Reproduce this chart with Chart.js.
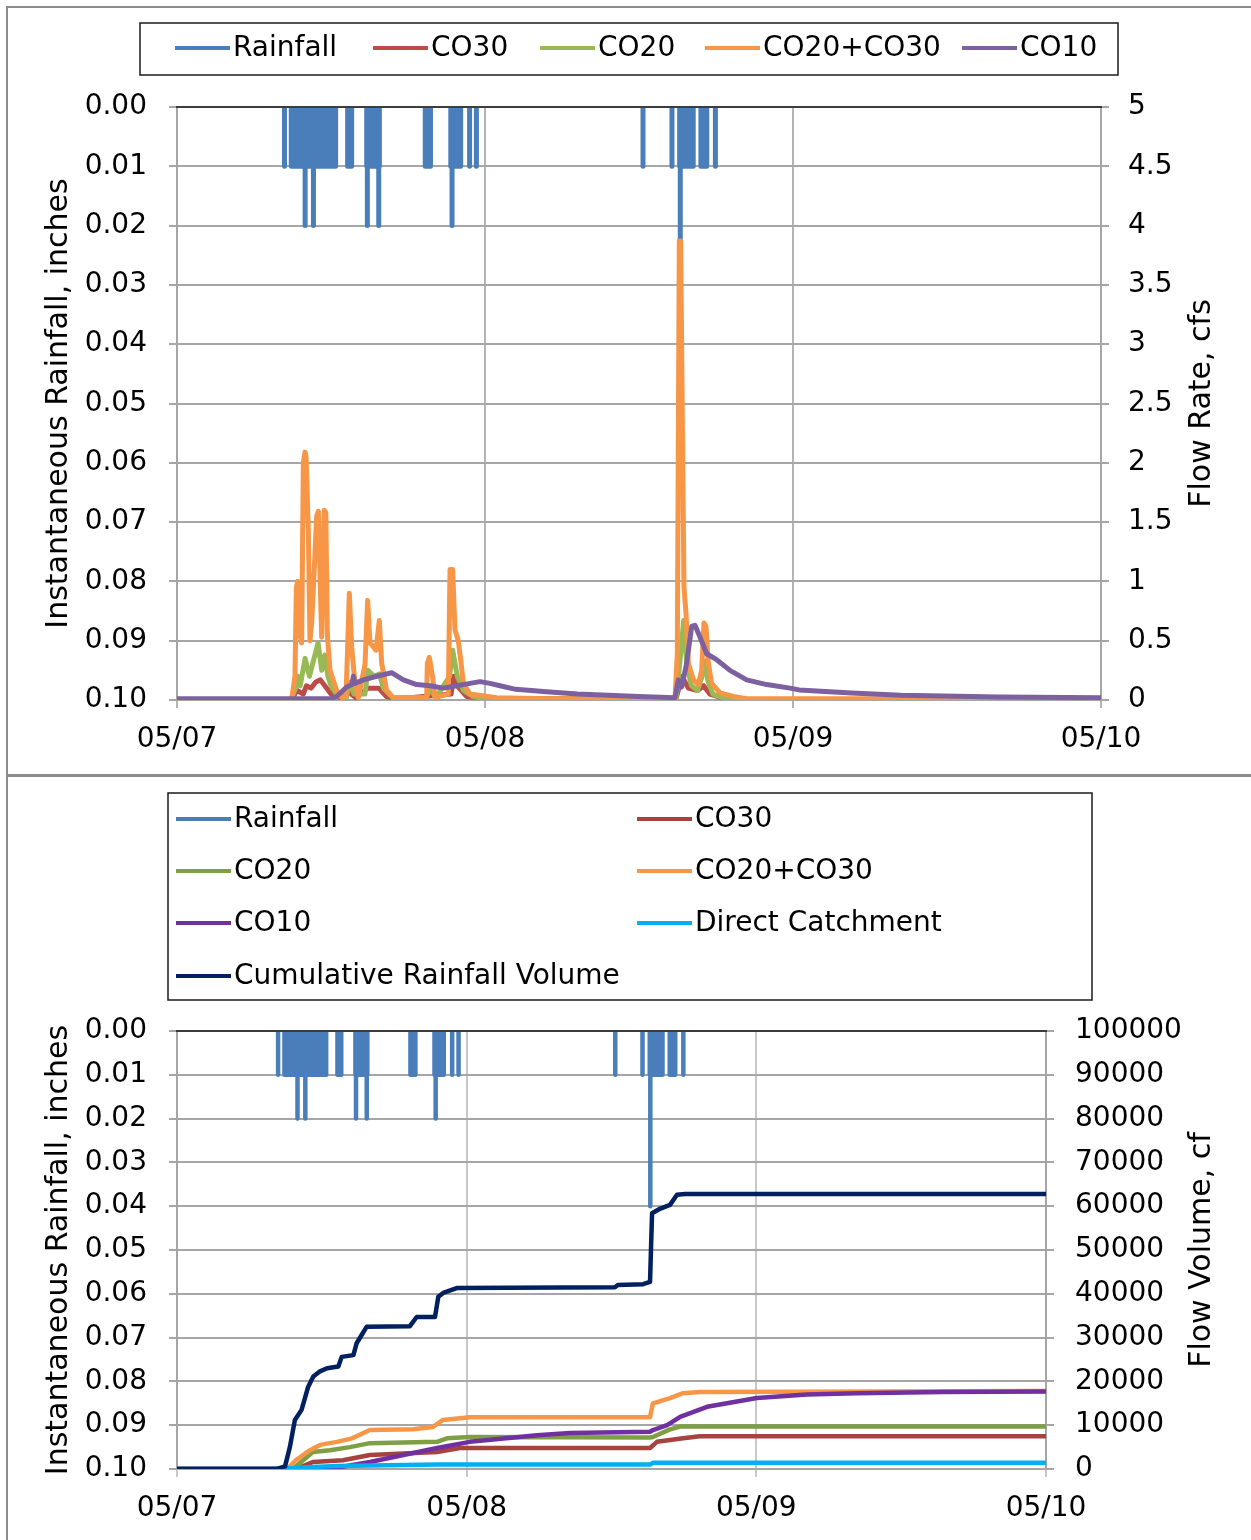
<!DOCTYPE html>
<html><head><meta charset="utf-8">
<script src="https://cdn.jsdelivr.net/npm/chart.js@4.4.1/dist/chart.umd.min.js"></script>
<style>
html,body{margin:0;padding:0;background:#fff;}
#wrap{position:relative;width:1251px;height:1540px;overflow:hidden;background:#fff;}
.frame{position:absolute;left:6px;top:6px;width:1300px;height:1600px;border-left:2px solid #8c8c8c;border-top:2px solid #8c8c8c;}
.sep{position:absolute;left:6px;top:774px;width:1260px;height:3px;background:#8c8c8c;}
canvas{position:absolute;}
#c1{left:8px;top:9px;width:1242px;height:764px;}
#c2{left:8px;top:778px;width:1242px;height:759px;}
</style></head><body>
<div id="wrap"><div class="frame"></div><div class="sep"></div>
<canvas id="c1" width="1242" height="764"></canvas>
<canvas id="c2" width="1242" height="759"></canvas></div>
<script>
// ---------- tick labels ----------
const dateTicks = [0, 1, 2, 3];
const dateLabels = ['05/07', '05/08', '05/09', '05/10'];
const rainTicks = [0, 0.01, 0.02, 0.03, 0.04, 0.05, 0.06, 0.07, 0.08, 0.09, 0.10];
const rainTickLabels = ['0.00','0.01','0.02','0.03','0.04','0.05','0.06','0.07','0.08','0.09','0.10'];
const flowTicks = [0, 0.5, 1, 1.5, 2, 2.5, 3, 3.5, 4, 4.5, 5];
const flowTickLabels = ['0','0.5','1','1.5','2','2.5','3','3.5','4','4.5','5'];
const volTicks = [0,10000,20000,30000,40000,50000,60000,70000,80000,90000,100000];
const volTickLabels = ['0','10000','20000','30000','40000','50000','60000','70000','80000','90000','100000'];

// ---------- series names ----------
const names1 = ['Rainfall', 'CO30', 'CO20', 'CO20+CO30', 'CO10'];
const names2 = ['Rainfall', 'CO30', 'CO20', 'CO20+CO30', 'CO10', 'Direct Catchment', 'Cumulative Rainfall Volume'];

// ---------- rainfall (inches), time in days after 05/07 00:00 ----------
const rainDay = [0.349,0.349,0.349, 0.371,0.371,0.416,0.416,0.416,0.443,0.443,0.443,0.515,0.515,
  0.554,0.554,0.567,0.567, 0.616,0.616,0.618,0.618,0.618,0.655,0.655,0.655,0.657,0.657,
  0.806,0.806,0.823,0.823, 0.889,0.889,0.893,0.893,0.893,0.921,0.921,
  0.950,0.950,0.950, 0.972,0.972,0.972, 1.513,1.513,1.513, 1.607,1.607,1.607,
  1.632,1.632,1.634,1.634,1.634,1.676,1.676, 1.701,1.701,1.720,1.720, 1.748,1.748,1.748];
const rainInch = [0,0.01,0, 0,0.01,0.01,0.02,0.01,0.01,0.02,0.01,0.01,0,
  0,0.01,0.01,0, 0,0.01,0.01,0.02,0.01,0.01,0.02,0.01,0.01,0,
  0,0.01,0.01,0, 0,0.01,0.01,0.02,0.01,0.01,0,
  0,0.01,0, 0,0.01,0, 0,0.01,0, 0,0.01,0,
  0,0.01,0.01,0.04,0.01,0.01,0, 0,0.01,0.01,0, 0,0.01,0];

// ---------- chart 1: flow rate (cfs) ----------
const co30Day1 = [0,0.37,0.39,0.41,0.42,0.435,0.45,0.465,0.48,0.5,0.53,0.56,0.58,0.62,0.655,0.68,0.72,0.89,0.898,0.91,0.94,1.0,1.62,1.64,1.66,1.69,1.71,1.73,1.78,1.85,3.0];
const co30Cfs1 = [0,0,0.08,0.05,0.12,0.1,0.15,0.17,0.12,0.05,0.02,0.06,0.02,0.1,0.1,0.03,0.01,0.05,0.2,0.12,0.03,0.01,0.01,0.2,0.1,0.08,0.12,0.05,0.01,0,0];
const co20Day1 = [0,0.37,0.385,0.392,0.40,0.416,0.43,0.445,0.458,0.47,0.48,0.49,0.50,0.52,0.55,0.56,0.575,0.61,0.62,0.64,0.657,0.67,0.70,0.81,0.82,0.84,0.885,0.895,0.91,0.93,0.96,1.0,1.62,1.632,1.645,1.655,1.67,1.69,1.705,1.713,1.725,1.74,1.77,1.8,3.0];
const co20Cfs1 = [0,0,0.1,0.2,0.12,0.35,0.2,0.35,0.48,0.25,0.38,0.2,0.12,0.04,0.02,0.15,0.05,0.05,0.25,0.2,0.22,0.1,0.02,0.02,0.1,0.02,0.2,0.42,0.2,0.08,0.03,0.01,0.01,0.3,0.67,0.3,0.12,0.08,0.2,0.33,0.15,0.05,0.02,0,0];
const comboDay1 = [0,0.372,0.383,0.3875,0.392,0.3994,0.4048,0.4102,0.4156,0.419,0.4264,0.4318,0.4372,0.4426,0.4535,0.4589,0.4697,0.4778,0.4832,0.4881,0.4968,0.5184,0.5346,0.5487,0.5541,0.5595,0.5671,0.5779,0.5887,0.6104,0.619,0.6266,0.6374,0.6461,0.6569,0.6645,0.6807,0.7024,0.8106,0.8128,0.8193,0.8301,0.8377,0.881,0.8864,0.895,0.9026,0.9134,0.921,0.9297,0.9513,1.0379,1.2,1.6169,1.6244,1.6309,1.6353,1.6407,1.6461,1.6526,1.6602,1.6764,1.6926,1.7035,1.711,1.7175,1.7251,1.7359,1.763,1.8063,1.8496,2.28,2.3,3.0];
const comboCfs1 = [0,0,0.2,0.95,1.0,0.55,0.48,2.0,2.09,2.05,1.43,0.5,0.65,0.93,1.55,1.59,0.53,1.6,1.58,0.55,0.25,0.08,0.02,0.03,0.45,0.9,0.45,0.14,0.02,0.3,0.84,0.48,0.45,0.42,0.67,0.31,0.08,0.02,0.02,0.31,0.36,0.19,0.02,0.05,1.1,1.1,0.59,0.5,0.34,0.14,0.05,0.02,0.01,0.01,0.39,3.87,3.87,2.36,0.95,0.73,0.31,0.17,0.13,0.25,0.65,0.62,0.31,0.14,0.06,0.03,0.01,0.01,0,0];
const co10Day1 = [0,0.5,0.5184,0.5509,0.568,0.5725,0.5779,0.605,0.6483,0.697,0.7348,0.778,0.8214,0.8647,0.908,0.9513,0.9838,1.0162,1.0487,1.1,1.2,1.3,1.4,1.5,1.6169,1.6277,1.6385,1.6548,1.671,1.6818,1.6981,1.7197,1.7522,1.7955,1.8496,1.9145,1.9903,2.02,2.19,2.35,2.67,3.0];
const co10Cfs1 = [0.01,0.01,0.03,0.11,0.13,0.2,0.14,0.17,0.2,0.23,0.17,0.13,0.12,0.1,0.12,0.14,0.155,0.14,0.12,0.09,0.07,0.05,0.04,0.03,0.02,0.17,0.11,0.31,0.62,0.63,0.53,0.39,0.34,0.25,0.17,0.13,0.1,0.085,0.06,0.04,0.025,0.02];

// ---------- chart 2: cumulative flow volume (cf) ----------
const co30Day2 = [0,0.41,0.469,0.573,0.666,0.898,0.977,1.633,1.657,1.747,1.805,3.0];
const co30Vol2 = [0,0,1600,2000,3200,3900,4800,4800,6200,7000,7500,7500];
const co20Day2 = [0,0.40,0.469,0.528,0.597,0.666,0.898,0.932,1.011,1.633,1.643,1.70,1.737,3.0];
const co20Vol2 = [0,0,3900,4300,5000,5900,6200,7000,7300,7200,7300,9000,9700,9700];
const comboDay2 = [0,0.38,0.41,0.459,0.494,0.552,0.604,0.666,0.815,0.884,0.918,1.011,1.633,1.643,1.702,1.747,1.805,3.0];
const comboVol2 = [0,0,2000,4300,5500,6200,7000,8900,9100,9600,11200,11800,11800,15000,16200,17300,17600,17800];
const co10Day2 = [0,0.45,0.552,0.666,0.898,1.011,1.243,1.357,1.633,1.643,1.692,1.737,1.83,2.002,2.175,2.347,2.644,3.0];
const co10Vol2 = [0,0,300,1600,4800,6200,7700,8200,8500,8900,10000,11900,14200,16200,17000,17300,17600,17700];
const directDay2 = [0,0.35,0.45,0.552,0.898,1.633,1.643,3.0];
const directVol2 = [0,0,400,700,1000,1000,1400,1400];
const cumDay2 = [0,0.345,0.373,0.39,0.407,0.43,0.453,0.4706,0.4937,0.518,0.557,0.5685,0.609,0.620,0.6375,0.655,0.804,0.8275,0.8907,0.902,0.919,0.9655,1.512,1.522,1.609,1.633,1.640,1.667,1.702,1.726,1.754,3.0];
const cumVol2 = [0,0,600,5100,11200,13500,18800,21100,22300,23000,23400,25600,26000,28700,30600,32500,32600,34700,34700,39300,40200,41300,41500,42000,42200,42700,58400,59400,60300,62600,62800,62800];

// ---------- colours ----------
const col1 = ['#4a7ebb', '#be4b48', '#98b954', '#f79646', '#7d60a0'];
const col2 = ['#4a7ebb', '#a5433f', '#7f9f45', '#f79646', '#7030a0', '#00b0f0', '#002060'];

// ---------- helpers ----------
const FONT_FAMILY = '"DejaVu Sans", "Verdana", sans-serif';
const FONT = '28px ' + FONT_FAMILY;
const TITLE_FONT = '30px ' + FONT_FAMILY;
Chart.defaults.font.family = FONT_FAMILY;
Chart.defaults.font.size = 28;
Chart.defaults.color = '#000';

function pts(xs, ys) { return xs.map((x, i) => ({ x: x, y: ys[i] })); }
// split the rainfall record into its separate wet spells (each starts and ends at 0)
function splitBlocks(xs, ys) {
  const blocks = []; let cur = [];
  xs.forEach((x, i) => { cur.push({ x, y: ys[i] }); if (ys[i] === 0 && cur.length > 1) { blocks.push(cur); cur = []; } });
  return blocks;
}
function lineDs(label, xs, ys, color, order, width) {
  return { label, data: pts(xs, ys), borderColor: color, backgroundColor: color, yAxisID: 'yRight', order,
    borderWidth: width, pointRadius: 0, tension: 0, borderJoinStyle: 'round', borderCapStyle: 'round', fill: false };
}
function rainSets(color, order, width) {
  return splitBlocks(rainDay, rainInch).map(b => ({ label: 'Rainfall', data: b, borderColor: color, backgroundColor: color,
    yAxisID: 'yRain', order, borderWidth: width, pointRadius: 0, tension: 0, fill: 'origin',
    borderJoinStyle: 'round', borderCapStyle: 'round' }));
}
function setTicks(vals) { return s => { s.ticks = vals.map(v => ({ value: v })); }; }
function labelFrom(vals, labels) { return v => { const i = vals.indexOf(v); return i >= 0 ? labels[i] : ''; }; }

const topBorder = { id: 'topBorder', afterDatasetsDraw(chart) {
  const { ctx, chartArea: a } = chart; ctx.save(); ctx.strokeStyle = '#3c3c3c'; ctx.lineWidth = 2;
  ctx.beginPath(); ctx.moveTo(a.left - 1, a.top); ctx.lineTo(a.right + 1, a.top); ctx.stroke(); ctx.restore(); } };
function rightTitle(text, x) { return { id: 'rightTitle', afterDraw(chart) {
  const { ctx, chartArea: a } = chart; ctx.save(); ctx.font = TITLE_FONT; ctx.fillStyle = '#000';
  ctx.textAlign = 'center'; ctx.textBaseline = 'middle';
  ctx.translate(x, (a.top + a.bottom) / 2); ctx.rotate(-Math.PI / 2); ctx.fillText(text, 0, 0); ctx.restore(); } }; }
function boxLegend(box, items, sample) { return { id: 'boxLegend', afterDraw(chart) {
  const ctx = chart.ctx; ctx.save(); ctx.strokeStyle = '#1a1a1a'; ctx.lineWidth = 1.5;
  ctx.strokeRect(box.x, box.y, box.w, box.h);
  ctx.font = FONT; ctx.textBaseline = 'middle'; ctx.textAlign = 'left'; ctx.fillStyle = '#000';
  items.forEach(it => { ctx.strokeStyle = it.color; ctx.lineWidth = 4; ctx.lineCap = 'butt';
    ctx.beginPath(); ctx.moveTo(it.x, it.y); ctx.lineTo(it.x + sample, it.y); ctx.stroke();
    ctx.fillText(it.label, it.x + sample + 3, it.y + 1); });
  ctx.restore(); } }; }

function makeOptions(cfg) { return {
  responsive: false, animation: false, devicePixelRatio: 1,
  layout: { padding: { top: cfg.padTop, left: 0, right: 0, bottom: 0 } },
  plugins: { legend: { display: false }, tooltip: { enabled: false } },
  scales: {
    x: { type: 'linear', min: 0, max: 3, afterBuildTicks: setTicks(dateTicks),
      ticks: { callback: labelFrom(dateTicks, dateLabels), padding: 15, maxRotation: 0, autoSkip: false, color: '#000' },
      grid: { color: cfg.vGrid, lineWidth: 2, tickLength: 8 }, border: { color: '#a6a6a6', width: 2 },
      afterFit: s => { s.height = cfg.xHeight; } },
    yRain: { type: 'linear', position: 'left', reverse: true, min: 0, max: 0.1, afterBuildTicks: setTicks(rainTicks),
      ticks: { callback: labelFrom(rainTicks, rainTickLabels), padding: 22, color: '#000' },
      grid: { color: '#a6a6a6', lineWidth: 2, tickLength: 8 }, border: { color: '#a6a6a6', width: 2 },
      title: { display: true, text: 'Instantaneous Rainfall, inches', color: '#000', font: { size: 30 }, padding: { top: 33.5, bottom: 0 } },
      afterFit: s => { s.width = 169; } },
    yRight: { type: 'linear', position: 'right', min: 0, max: cfg.rMax, afterBuildTicks: setTicks(cfg.rTicks),
      ticks: { callback: labelFrom(cfg.rTicks, cfg.rLabels), padding: cfg.rPad, color: '#000' },
      grid: { drawOnChartArea: false, color: '#a6a6a6', lineWidth: 2, tickLength: 8 }, border: { color: '#a6a6a6', width: 2 },
      afterFit: s => { s.width = cfg.rWidth; } } } }; }

// ---------- chart 1 ----------
new Chart(document.getElementById('c1'), { type: 'line',
  data: { datasets: [ ...rainSets(col1[0], 5, 5),
    lineDs(names1[1], co30Day1, co30Cfs1, col1[1], 4, 5),
    lineDs(names1[2], co20Day1, co20Cfs1, col1[2], 3, 5),
    lineDs(names1[3], comboDay1, comboCfs1, col1[3], 2, 5),
    lineDs(names1[4], co10Day1, co10Cfs1, col1[4], 1, 5) ] },
  options: makeOptions({ padTop: 98, xHeight: 73, vGrid: '#b4b4b4', rMax: 5, rTicks: flowTicks, rLabels: flowTickLabels, rPad: 19, rWidth: 149 }),
  plugins: [topBorder, rightTitle('Flow Rate, cfs', 1194),
    boxLegend({ x: 132, y: 14, w: 978, h: 52 },
      [[167, 39], [365, 39], [532, 39], [697, 39], [954, 39]].map((p, i) => ({ x: p[0], y: p[1], label: names1[i], color: col1[i] })), 55)] });

// ---------- chart 2 ----------
new Chart(document.getElementById('c2'), { type: 'line',
  data: { datasets: [ ...rainSets(col2[0], 7, 4.5),
    lineDs(names2[1], co30Day2, co30Vol2, col2[1], 6, 4.5),
    lineDs(names2[2], co20Day2, co20Vol2, col2[2], 5, 4.5),
    lineDs(names2[3], comboDay2, comboVol2, col2[3], 4, 4.5),
    lineDs(names2[4], co10Day2, co10Vol2, col2[4], 3, 4.5),
    lineDs(names2[5], directDay2, directVol2, col2[5], 2, 4.5),
    lineDs(names2[6], cumDay2, cumVol2, col2[6], 1, 4.5) ] },
  options: makeOptions({ padTop: 253, xHeight: 68, vGrid: '#c8c8c8', rMax: 100000, rTicks: volTicks, rLabels: volTickLabels, rPad: 21, rWidth: 204 }),
  plugins: [topBorder, rightTitle('Flow Volume, cf', 1194),
    boxLegend({ x: 160, y: 15, w: 924, h: 207 },
      [[168, 41], [629, 41], [168, 93], [629, 93], [168, 145], [629, 145], [168, 198]].map((p, i) => ({ x: p[0], y: p[1], label: names2[i], color: col2[i] })), 55)] });
</script>
</body></html>
